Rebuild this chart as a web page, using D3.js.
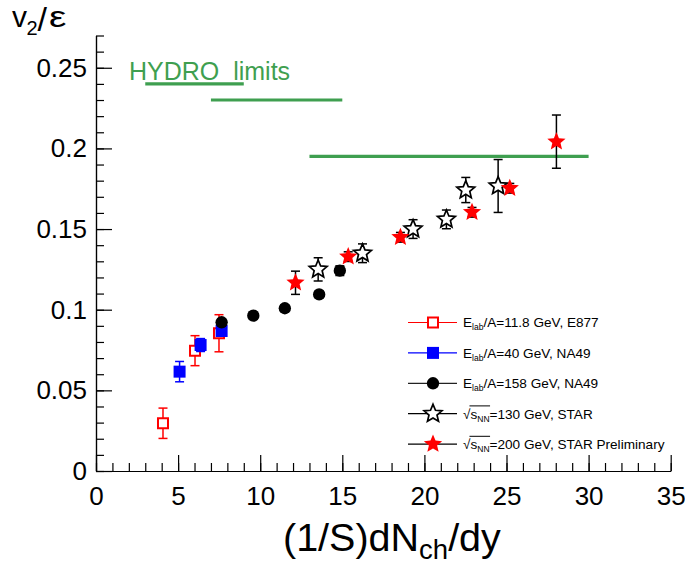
<!DOCTYPE html>
<html><head><meta charset="utf-8">
<script src="https://cdn.jsdelivr.net/npm/d3@7"></script>
<style>
html,body{margin:0;padding:0;background:#fff;}
svg{display:block;font-family:"Liberation Sans",Arial,sans-serif;}
</style></head>
<body><svg id="c" width="685" height="569"></svg>
<script>
// ---- data ----
const xMajorTicks = [0, 5, 10, 15, 20, 25, 30, 35];
const yMajorTicks = [0, 0.05, 0.1, 0.15, 0.2, 0.25];
const yTickLabels = ["0", "0.05", "0.1", "0.15", "0.2", "0.25"];

const e877X = [4.08, 6.03, 7.49];
const e877Y = [0.0296, 0.0746, 0.0854];
const e877Err = [0.0094, 0.0093, 0.0115];

const na49_40X = [5.09, 6.37, 7.65];
const na49_40Y = [0.0616, 0.0781, 0.0868];
const na49_40Err = [0.0063, 0.0040, 0.0030];

const na49_158X = [7.65, 9.58, 11.5, 13.59, 14.85];
const na49_158Y = [0.0922, 0.0963, 0.1009, 0.1095, 0.1242];
const na49_158Err = [0.002, 0.002, 0.002, 0.002, 0.003];

const star130X = [13.53, 16.23, 19.31, 21.34, 22.52, 24.49];
const star130Y = [0.125, 0.135, 0.150, 0.156, 0.1742, 0.1767];
const star130Err = [0.0072, 0.0058, 0.0058, 0.0058, 0.0078, 0.0164];

const star200X = [12.15, 15.36, 18.54, 22.9, 25.2, 28.04];
const star200Y = [0.1167, 0.1329, 0.1449, 0.1604, 0.1753, 0.2042];
const star200Err = [0.0072, 0.003, 0.003, 0.003, 0.003, 0.0165];

const hydroX0 = [3, 7, 13];
const hydroX1 = [9, 15, 30];
const hydroY = [0.24, 0.23, 0.195];

const legendLabels = [
  {main: "E", sub: "lab", rest: "/A=11.8 GeV, E877", sqrt: false},
  {main: "E", sub: "lab", rest: "/A=40 GeV, NA49", sqrt: false},
  {main: "E", sub: "lab", rest: "/A=158 GeV, NA49", sqrt: false},
  {main: "s", sub: "NN", rest: "=130 GeV, STAR", sqrt: true},
  {main: "s", sub: "NN", rest: "=200 GeV, STAR Preliminary", sqrt: true}
];

// ---- layout ----
const svg = d3.select("#c");
const x = d3.scaleLinear().domain([0, 35]).range([96, 670.7]);
const y = d3.scaleLinear().domain([0, 0.27]).range([471, 35.5]);
const GREEN = "#3f9f50";

// axes
const xAxisMinor = d3.axisBottom(x).tickValues(d3.range(0, 36, 1)).tickSize(-8).tickSizeOuter(0).tickFormat("");
const xAxis = d3.axisBottom(x).tickValues(xMajorTicks).tickSize(-16).tickSizeOuter(0).tickPadding(15.5).tickFormat(d3.format("d"));
const yAxisMinor = d3.axisLeft(y).tickValues(d3.range(0, 0.2701, 0.01)).tickSize(-8).tickSizeOuter(0).tickFormat("");
const yAxis = d3.axisLeft(y).tickValues(yMajorTicks).tickSize(-16).tickSizeOuter(0).tickPadding(9)
  .tickFormat((d, i) => yTickLabels[i]);

function styleAxis(g){
  g.selectAll("path.domain").attr("stroke", "#000").attr("stroke-width", 1.2);
  g.selectAll(".tick line").attr("stroke", "#000").attr("stroke-width", 1.2);
  g.selectAll(".tick text").attr("fill", "#000").style("font-size", "26px").style("font-family", '"Liberation Sans",Arial,sans-serif');
}
svg.append("g").attr("transform", "translate(0,471)").call(xAxisMinor).call(styleAxis);
svg.append("g").attr("transform", "translate(0,471)").call(xAxis).call(styleAxis);
svg.append("g").attr("transform", "translate(96,0)").call(yAxisMinor).call(styleAxis);
svg.append("g").attr("transform", "translate(96,0)").call(yAxis).call(styleAxis);

// axis titles
const xt = svg.append("text").attr("x", 283).attr("y", 551).style("font-size", "39.5px").attr("fill", "#000");
xt.append("tspan").text("(1/S)dN");
xt.append("tspan").attr("dy", 8).style("font-size", "27.5px").text("ch");
xt.append("tspan").attr("dy", -8).text("/dy");

const yt = svg.append("text").attr("fill", "#000");
yt.append("tspan").attr("x", 12).attr("y", 26.7).style("font-size", "30px").text("v");
yt.append("tspan").attr("x", 26.5).attr("y", 35).style("font-size", "20px").text("2");
yt.append("tspan").attr("x", 37.5).attr("y", 31).style("font-size", "34px").text("/");
svg.append("text").attr("transform", "translate(49,26.7) scale(1.3,1)")
  .style("font-size", "30px").attr("fill", "#000").text("ε");

// hydro limits
svg.append("g").selectAll("line").data(hydroY).join("line")
  .attr("x1", (d, i) => x(hydroX0[i])).attr("x2", (d, i) => x(hydroX1[i]))
  .attr("y1", d => y(d)).attr("y2", d => y(d))
  .attr("stroke", GREEN).attr("stroke-width", 3.2);
svg.append("text").attr("x", 129).attr("y", 80).style("font-size", "25px").style("white-space", "pre")
  .attr("fill", GREEN).text("HYDRO  limits");

// symbols
const fatStar = {
  draw(ctx, size) {
    const r = Math.sqrt(size), ri = r * 0.45;
    for (let k = 0; k < 10; k++) {
      const a = k * Math.PI / 5, rad = k % 2 ? ri : r;
      const px = rad * Math.sin(a), py = -rad * Math.cos(a);
      if (k === 0) ctx.moveTo(px, py); else ctx.lineTo(px, py);
    }
    ctx.closePath();
  }
};
const sqOpen = d3.symbol().type(d3.symbolSquare).size(100);
const sqFill = d3.symbol().type(d3.symbolSquare).size(144);
const circ = d3.symbol().type(d3.symbolCircle).size(120);
const starS = d3.symbol().type(fatStar).size(92);
const starOpenS = d3.symbol().type(fatStar).size(88);

const series = [
  {xs: e877X, ys: e877Y, es: e877Err, errColor: "#ff0000", sym: sqOpen, fill: "#fff", stroke: "#ff0000", sw: 2, line: "#ff0000"},
  {xs: na49_40X, ys: na49_40Y, es: na49_40Err, errColor: "#0000ff", sym: sqFill, fill: "#0000ff", stroke: "none", sw: 0, line: "#0000ff"},
  {xs: na49_158X, ys: na49_158Y, es: na49_158Err, errColor: "#000", sym: circ, fill: "#000", stroke: "none", sw: 0, line: "#222"},
  {xs: star130X, ys: star130Y, es: star130Err, errColor: "#000", sym: starOpenS, fill: "#fff", stroke: "#000", sw: 1.7, line: "#000"},
  {xs: star200X, ys: star200Y, es: star200Err, errColor: "#000", sym: starS, fill: "#ff0000", stroke: "none", sw: 0, line: "#000"}
];

const plot = svg.append("g");
series.forEach(s => {
  const g = plot.append("g");
  const idx = d3.range(s.xs.length);
  g.selectAll("line.eb").data(idx).join("line").attr("class", "eb")
    .attr("x1", i => x(s.xs[i])).attr("x2", i => x(s.xs[i]))
    .attr("y1", i => y(s.ys[i] - s.es[i])).attr("y2", i => y(s.ys[i] + s.es[i]))
    .attr("stroke", s.errColor).attr("stroke-width", 1.5);
  [-1, 1].forEach(sgn => {
    g.selectAll("line.cap" + (sgn > 0 ? "t" : "b")).data(idx).join("line").attr("class", "cap" + (sgn > 0 ? "t" : "b"))
      .attr("x1", i => x(s.xs[i]) - 4.5).attr("x2", i => x(s.xs[i]) + 4.5)
      .attr("y1", i => y(s.ys[i] + sgn * s.es[i])).attr("y2", i => y(s.ys[i] + sgn * s.es[i]))
      .attr("stroke", s.errColor).attr("stroke-width", 1.5);
  });
  g.selectAll("path").data(idx).join("path")
    .attr("transform", i => `translate(${x(s.xs[i])},${y(s.ys[i])})`)
    .attr("d", s.sym())
    .attr("fill", s.fill).attr("stroke", s.stroke).attr("stroke-width", s.sw);
});

// legend
const lg = svg.append("g");
const legY0 = 322.5, legStep = 30.4;
series.forEach((s, i) => {
  const cy = legY0 + i * legStep;
  lg.append("line").attr("x1", 408).attr("x2", 457).attr("y1", cy).attr("y2", cy)
    .attr("stroke", s.line).attr("stroke-width", 1.2);
  lg.append("path").attr("transform", `translate(433,${cy})`).attr("d", s.sym())
    .attr("fill", s.fill).attr("stroke", s.stroke).attr("stroke-width", s.sw);
  const L = legendLabels[i];
  const t = lg.append("text").attr("x", 463).attr("y", cy + 4.8).style("font-size", "13.6px").attr("fill", "#000");
  if (L.sqrt) t.append("tspan").text("√");
  t.append("tspan").text(L.main);
  t.append("tspan").attr("dy", 3).style("font-size", "8.5px").text(L.sub);
  t.append("tspan").attr("dy", -3).text(L.rest);
  if (L.sqrt) {
    const node = t.node();
    const x0 = node.getStartPositionOfChar(1).x;
    const x1 = node.getEndPositionOfChar(3).x;
    lg.append("line").attr("x1", x0 - 1).attr("x2", x1 + 0.5).attr("y1", cy - 7.8).attr("y2", cy - 7.8)
      .attr("stroke", "#000").attr("stroke-width", 1);
  }
});
</script></body></html>
